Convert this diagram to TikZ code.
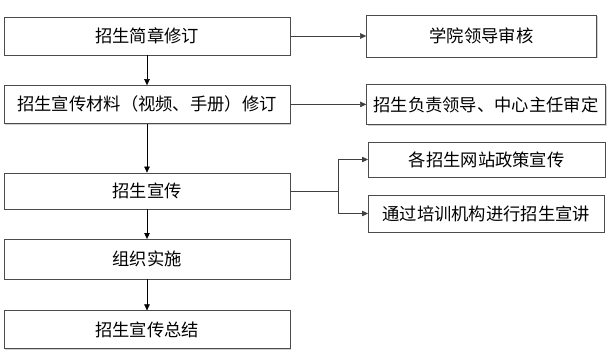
\documentclass[tikz,border=0pt]{standalone}
\usepackage{fontspec}
\newfontfamily\cjk{Noto Sans CJK SC}
\usepackage{tikz}
\usetikzlibrary{
    arrows.meta, positioning, calc, shadows
}
\tikzset{
  stepbox/.style={rectangle, draw=gray!60!black, fill=white,
               minimum height=38pt, inner sep=2pt,
               align=center, font=\cjk\fontsize{17.3}{20}\selectfont,
               drop shadow={shadow xshift=1.2pt, shadow yshift=-1.2pt,
                            fill=gray!35, opacity=1}},
  mainbox/.style={stepbox, minimum width=286pt},
  sidebox/.style={stepbox},
  arr/.style={-{Triangle[length=6pt, width=5.5pt]}, black},
  sidearr/.style={-{Triangle[length=6pt, width=5.5pt]}, gray!50!black},
}

\begin{document}
\begin{tikzpicture}
  \useasboundingbox (0,0) rectangle (612pt,-353pt);
  % main steps
  \node[mainbox] (revise) at (147pt,-36pt) {招生简章修订};
  \node[mainbox, below=30pt of revise] (material) {招生宣传材料（视频、手册）修订};
  \node[mainbox, below=49pt of material, minimum height=36pt] (publicity) {招生宣传};
  \node[mainbox, below=30pt of publicity, minimum height=40pt] (organize) {组织实施};
  \node[mainbox, below=31pt of organize] (summary) {招生宣传总结};
  % side steps
  \node[sidebox, right=76pt of revise, minimum width=230pt, minimum height=42pt] (college) {学院领导审核};
  \node[sidebox, right=76pt of material, minimum width=239pt, minimum height=40pt] (leader) {招生负责领导、中心主任审定};
  \node[sidebox, anchor=west, minimum width=237pt, minimum height=35pt] (website) at (368pt,-159.5pt) {各招生网站政策宣传};
  \node[sidebox, anchor=west, minimum width=236pt, minimum height=37pt] (training) at (368pt,-213.5pt) {通过培训机构进行招生宣讲};
  % main flow
  \draw[arr] (revise) -- (material);
  \draw[arr] (material) -- (publicity);
  \draw[arr] (publicity) -- (organize);
  \draw[arr] (organize) -- (summary);
  % to the right
  \draw[sidearr] (revise.east) -- (revise.east -| college.west);
  \draw[sidearr] (material.east) -- (material.east -| leader.west);
  \coordinate (fork) at ($(publicity.east)+(48pt,0)$);
  \draw[gray!50!black] (publicity.east) -- (fork);
  \draw[sidearr] (fork) |- (website.west);
  \draw[sidearr] (fork) |- (training.west);
\end{tikzpicture}
\end{document}
